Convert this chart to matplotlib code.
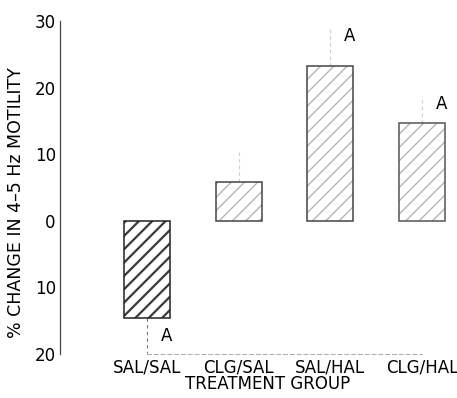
import matplotlib
matplotlib.use('Agg')
import matplotlib.pyplot as plt
import numpy as np

# drawn at 80 dpi so the hatch pitch matches the scan; sizes scaled to keep pixels
DPI = 80
S = 100 / DPI

plt.rcParams['font.family'] = ['DejaVu Sans']

# values
groups = ['SAL/SAL', 'CLG/SAL', 'SAL/HAL', 'CLG/HAL']
change = [-14.6, 5.8, 23.3, 14.7]
sem = [5.2, 4.7, 5.7, 4.1]
signif = ['A', '', 'A', 'A']
yticks = [-20, -10, 0, 10, 20, 30]
ytick_labels = ['20', '10', '0', '10', '20', '30']

fig = plt.figure(figsize=(457 / DPI, 398 / DPI), dpi=DPI)
ax = fig.add_axes([0.1313, 0.1106, 0.853, 0.8367])

x = np.arange(len(groups))
hatches = ['//', '//', '//', '//']
hatch_colors = ['#3a3a3a', '#b5b5b5', '#b5b5b5', '#b5b5b5']
hatch_lw = [1.6, 1.0, 1.0, 1.0]
edge_colors = ['#222222', '#444444', '#444444', '#555555']
err_colors = ['#777777', '#cccccc', '#cccccc', '#cccccc']
for i in range(len(groups)):
    with plt.rc_context({'hatch.linewidth': hatch_lw[i] * S}):
        bars = ax.bar(x[i], change[i], width=0.5, color='white', edgecolor=hatch_colors[i],
                      hatch=hatches[i], linewidth=0, zorder=2)
    for b in bars:
        if hasattr(b, 'set_hatch_linewidth'):
            b.set_hatch_linewidth(hatch_lw[i] * S)
    ax.bar(x[i], change[i], width=0.5, fill=False, edgecolor=edge_colors[i],
           linewidth=1.1 * S, zorder=3)
    # one-sided error bars, away from zero
    tip = change[i] + np.sign(change[i]) * sem[i]
    ax.vlines(x[i], change[i], tip, color=err_colors[i], linewidth=0.8 * S,
              linestyles=(0, (3, 3)), zorder=1)
    if signif[i]:
        ypos = tip - 1.2 if change[i] > 0 else change[i] - 2.7
        ax.text(x[i] + 0.21, ypos, signif[i], fontsize=12 * S, ha='center', va='center')

ax.set_xlim(-0.949, 3.304)
ax.set_ylim(-20, 30)
ax.set_yticks(yticks)
ax.set_yticklabels(ytick_labels, fontsize=12 * S)
ax.set_xticks(x)
ax.set_xticklabels(groups, fontsize=12 * S)
ax.tick_params(axis='y', length=0, pad=3 * S)
ax.tick_params(axis='x', length=0, pad=3 * S)

for s in ['top', 'right']:
    ax.spines[s].set_visible(False)
ax.spines['left'].set_color('#444444')
ax.spines['left'].set_linewidth(0.9 * S)
ax.spines['bottom'].set_bounds(0, 3)
ax.spines['bottom'].set_color('#aaaaaa')
ax.spines['bottom'].set_linewidth(0.7 * S)
ax.spines['bottom'].set_linestyle((0, (4, 3)))

ax.set_ylabel('% CHANGE IN 4\u20135 Hz MOTILITY', fontsize=12.5 * S)
ax.yaxis.set_label_coords(-0.09, 0.456)
fig.text(268 / 457, 1 - 384 / 398, 'TREATMENT GROUP', fontsize=12 * S,
         ha='center', va='center')

fig.savefig('out.png', dpi=DPI)
